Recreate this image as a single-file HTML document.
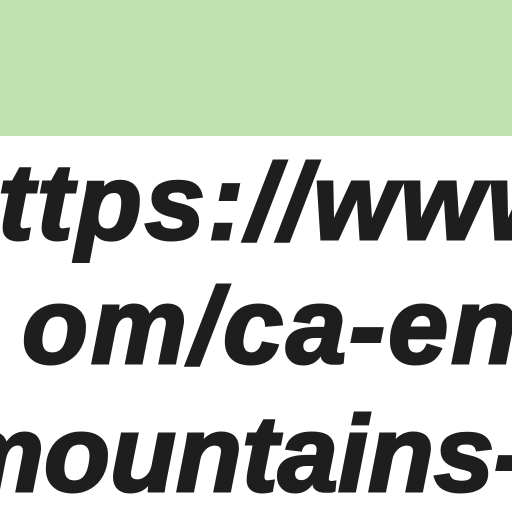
<!DOCTYPE html>
<html><head><meta charset="utf-8"><style>
html,body{margin:0;padding:0;width:512px;height:512px;overflow:hidden;background:#fff}
.w{position:relative;width:512px;height:512px;overflow:hidden}
.g{position:absolute;left:0;top:0;width:512px;height:136px;background:#c0e1b0}
.t{position:absolute;white-space:nowrap;font-family:"Liberation Sans",sans-serif;font-weight:bold;font-style:italic;font-size:108px;color:#1e1e1e;line-height:1;-webkit-text-stroke:3px #1e1e1e}
</style></head><body><div class="w">
<div class="g"></div>
<div class="t" style="left:-2px;top:148px;letter-spacing:3px">ttps://www</div>
<div class="t" style="left:22px;top:272px;letter-spacing:3px">om/ca-en/</div>
<div class="t" style="left:-52px;top:400px;letter-spacing:0px">mountains-</div>
</div></body></html>
